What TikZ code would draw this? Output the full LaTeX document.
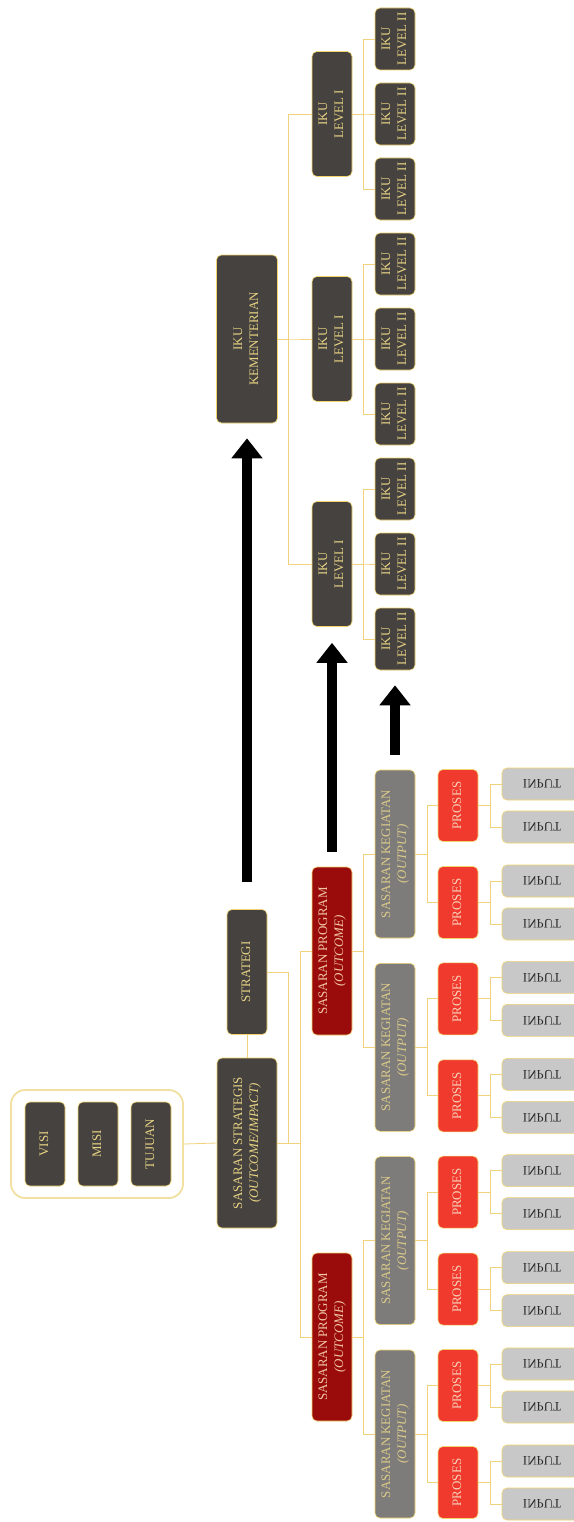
\documentclass[tikz,border=0pt]{standalone}
\usepackage{fontspec}
\setmainfont{Liberation Serif}
\usetikzlibrary{arrows.meta}
\definecolor{darkbox}{HTML}{45423F}
\definecolor{bord}{HTML}{F2D46E}
\definecolor{goldtxt}{HTML}{E8D384}
\definecolor{spred}{HTML}{9A0B0B}
\definecolor{sptxt}{HTML}{F0C6A6}
\definecolor{skgray}{HTML}{7E7C7A}
\definecolor{sktxt}{HTML}{DCCB8A}
\definecolor{prosred}{HTML}{F03A2E}
\definecolor{prostxt}{HTML}{F6D0B8}
\definecolor{inpfill}{HTML}{C8C8C8}
\definecolor{inptxt}{HTML}{2A2A2A}
\definecolor{conn}{HTML}{F0D27C}
\definecolor{vmtbord}{HTML}{F2E0A0}
\newcommand\myfs{\fontsize{13}{16}\selectfont}
\newcommand\vt[1]{\rotatebox{90}{\begin{tabular}{@{}c@{}}#1\end{tabular}}}
\tikzset{
  box/.style={draw=bord, line width=0.6bp, rounded corners=5bp, inner sep=0pt, font=\myfs},
  darkb/.style={box, fill=darkbox, text=goldtxt},
  spb/.style={box, fill=spred, text=sptxt, minimum width=40bp, minimum height=168bp},
  skb/.style={box, fill=skgray, text=sktxt, minimum width=40bp, minimum height=168bp},
  prb/.style={box, fill=prosred, text=prostxt, minimum width=40bp, minimum height=72bp},
  inb/.style={box, fill=inpfill, text=inptxt, minimum width=80bp, minimum height=32bp},
  lonetwo/.style={darkb, minimum width=40bp, minimum height=62bp},
  loneone/.style={darkb, minimum width=40bp, minimum height=125bp},
  cn/.style={draw=conn, line width=0.8bp},
  bigarrow/.style={draw=black, line width=10bp, -{Triangle[width=30bp,length=20bp]}},
}
\begin{document}
\begin{tikzpicture}[x=1bp,y=-1bp]
\useasboundingbox (0,0) rectangle (574,1522);
\fill[white] (0,0) rectangle (574,1522);

% Visi Misi Tujuan
\node[draw=vmtbord, line width=1.8bp, rounded corners=14bp, minimum width=172bp, minimum height=108bp, inner sep=0pt] (vmt) at (97,1144) {};
\node[darkb, minimum width=40bp, minimum height=84bp] (visi) at (45,1144) {\vt{VISI}};
\node[darkb, minimum width=40bp, minimum height=84bp] (misi) at (98,1144) {\vt{MISI}};
\node[darkb, minimum width=40bp, minimum height=84bp] (tujuan) at (151,1144) {\vt{TUJUAN}};

% main column
\node[darkb, minimum width=60bp, minimum height=170bp] (ss) at (247,1143) {\vt{SASARAN STRATEGIS\\\textit{(OUTCOME/IMPACT)}}};
\node[darkb, minimum width=40bp, minimum height=125bp] (strategi) at (247,972) {\vt{STRATEGI}};
\node[darkb, minimum width=61bp, minimum height=168bp] (ikuk) at (247,339) {\vt{IKU\\KEMENTERIAN}};

% sasaran program
\node[spb] (sp1) at (332,951) {\vt{SASARAN PROGRAM\\\textit{(OUTCOME)}}};
\node[spb] (sp2) at (332,1337) {\vt{SASARAN PROGRAM\\\textit{(OUTCOME)}}};

% IKU level I
\node[loneone] (la) at (332,114) {\vt{IKU\\LEVEL I}};
\node[loneone] (lb) at (332,339) {\vt{IKU\\LEVEL I}};
\node[loneone] (lc) at (332,564) {\vt{IKU\\LEVEL I}};

% IKU level II
\foreach \i in {0,...,8}{
  \node[lonetwo] (m\i) at (395,{39+75*\i}) {\vt{IKU\\LEVEL II}};
}

% sasaran kegiatan, proses, input
\foreach \j in {0,...,3}{
  \pgfmathsetmacro\cy{854+193.33*\j}
  \node[skb] (sk\j) at (395,\cy) {\vt{SASARAN KEGIATAN\\\textit{(OUTPUT)}}};
  \foreach \s [count=\k from 0] in {-1,1}{
    \pgfmathsetmacro\py{\cy+48.5*\s}
    \node[prb] (p\j\k) at (458,\py) {\vt{PROSES}};
    \node[inb] (ia\j\k) at (542,\py-21.5) {\scalebox{1}[-1]{INPUT}\hspace{8bp}};
    \node[inb] (ib\j\k) at (542,\py+21.5) {\scalebox{1}[-1]{INPUT}\hspace{8bp}};
    \draw[cn] (p\j\k.east) -- +(12,0) |- (ia\j\k.west);
    \draw[cn] (p\j\k.east) -- +(12,0) |- (ib\j\k.west);
    \draw[cn] (sk\j.east) -- +(12,0) |- (p\j\k.west);
  }
}

% connectors
\draw[cn] (vmt.east) -- (ss.west);
\draw[cn] (strategi.south) -- (ss.north);
\draw[cn] (ss.east) -- +(11,0) |- (strategi.east);
\draw[cn] (ss.east) -- +(23,0) |- (sp1.west);
\draw[cn] (ss.east) -- +(23,0) |- (sp2.west);
\draw[cn] (sp1.east) -- +(11,0) |- (sk0.west);
\draw[cn] (sp1.east) -- +(11,0) |- (sk1.west);
\draw[cn] (sp2.east) -- +(11,0) |- (sk2.west);
\draw[cn] (sp2.east) -- +(11,0) |- (sk3.west);
\foreach \c in {la,lb,lc}{
  \draw[cn] (ikuk.east) -- +(10.5,0) |- (\c.west);
}
\foreach \c in {m0,m1,m2}{ \draw[cn] (la.east) -- +(11,0) |- (\c.west); }
\foreach \c in {m3,m4,m5}{ \draw[cn] (lb.east) -- +(11,0) |- (\c.west); }
\foreach \c in {m6,m7,m8}{ \draw[cn] (lc.east) -- +(11,0) |- (\c.west); }

% big arrows
\draw[bigarrow] ([yshift=27bp]strategi.north) -- ([yshift=-15bp]ikuk.south);
\draw[bigarrow] ([yshift=15bp]sp1.north) -- ([yshift=-16bp]lc.south);
\draw[bigarrow] ([yshift=15bp]sk0.north) -- ([yshift=-15bp]m8.south);
\end{tikzpicture}
\end{document}
